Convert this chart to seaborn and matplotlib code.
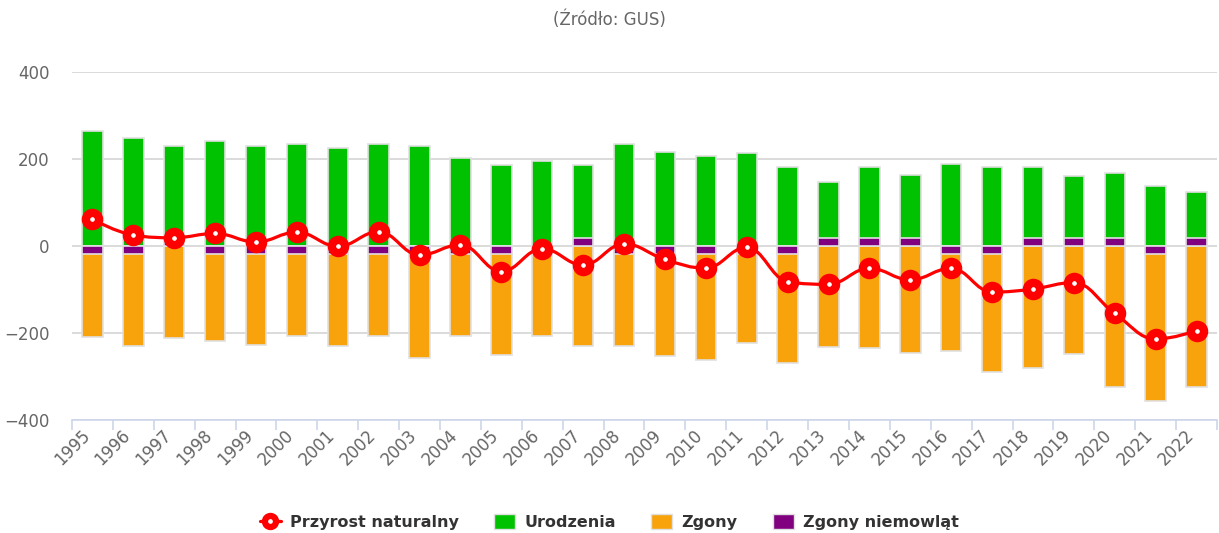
import matplotlib
matplotlib.use("Agg")
import matplotlib.pyplot as plt
from matplotlib.path import Path
from matplotlib.patches import PathPatch, Patch
from matplotlib.lines import Line2D
from matplotlib.transforms import ScaledTranslation
import seaborn as sns
import numpy as np

years = [str(y) for y in range(1995, 2023)]
urodzenia = [264, 249, 212, 242, 229, 235, 225, 235, 231, 203, 186, 196, 168, 235,
             217, 208, 214, 182, 129, 164, 146, 189, 182, 164, 142, 150, 139, 107]
zgony = [-192, -213, -212, -201, -210, -188, -213, -188, -240, -188, -232, -188, -231, -213,
         -235, -245, -206, -250, -233, -234, -245, -223, -272, -280, -249, -323, -338, -323]
zgony_niemowlat = [-18, -18, 18, -18, -18, -18, -18, -18, -18, -18, -18, -18, 18, -18,
                   -18, -18, -18, -18, 18, 18, 18, -18, -18, 18, 18, 18, -18, 18]
przyrost = [61, 25, 19, 29, 9, 32, -1, 33, -21, 3, -59, -6, -44, 5,
            -31, -51, -3, -82, -88, -51, -78, -51, -106, -99, -84, -155, -214, -195]

c_green = "#00c200"
c_orange = "#f8a20c"
c_purple = "#800080"
c_red = "#ff0000"

sns.set_style("white")
plt.rcParams['font.family'] = ['DejaVu Sans']

niem = np.array(zgony_niemowlat)
pos_top = np.array(urodzenia) + np.clip(niem, 0, None)
neg_bottom = np.array(zgony) + np.clip(niem, None, 0)

fig = plt.figure(figsize=(12.19, 5.33), dpi=100)
ax = fig.add_axes([72 / 1219, (533 - 420) / 533, 1145 / 1219, 348 / 533])

bar_kw = dict(width=0.5, saturation=1, edgecolor="#e0e0e0", linewidth=1.2, errorbar=None, ax=ax)
sns.barplot(x=years, y=pos_top, color=c_green, **bar_kw)
sns.barplot(x=years, y=neg_bottom, color=c_orange, **bar_kw)
sns.barplot(x=years, y=niem, color=c_purple, **bar_kw)

# spline line like highcharts
xs = np.arange(len(years), dtype=float)
ys = np.array(przyrost, dtype=float)
n = len(xs)
left = [None] * n
right = [None] * n
for i in range(1, n - 1):
    lx = (1.5 * xs[i] + xs[i - 1]) / 2.5
    ly = (1.5 * ys[i] + ys[i - 1]) / 2.5
    rx = (1.5 * xs[i] + xs[i + 1]) / 2.5
    ry = (1.5 * ys[i] + ys[i + 1]) / 2.5
    corr = ((ry - ly) * (rx - xs[i])) / (rx - lx) + ys[i] - ry
    ly += corr
    ry += corr
    if ly > ys[i - 1] and ly > ys[i]:
        ly = max(ys[i - 1], ys[i]); ry = 2 * ys[i] - ly
    elif ly < ys[i - 1] and ly < ys[i]:
        ly = min(ys[i - 1], ys[i]); ry = 2 * ys[i] - ly
    if ry > ys[i + 1] and ry > ys[i]:
        ry = max(ys[i + 1], ys[i]); ly = 2 * ys[i] - ry
    elif ry < ys[i + 1] and ry < ys[i]:
        ry = min(ys[i + 1], ys[i]); ly = 2 * ys[i] - ry
    left[i] = (lx, ly)
    right[i] = (rx, ry)
verts = [(xs[0], ys[0])]
codes = [Path.MOVETO]
for i in range(1, n):
    c1 = right[i - 1] if right[i - 1] else (xs[i - 1], ys[i - 1])
    c2 = left[i] if left[i] else (xs[i], ys[i])
    verts += [c1, c2, (xs[i], ys[i])]
    codes += [Path.CURVE4] * 3
ax.add_patch(PathPatch(Path(verts, codes), fill=False, edgecolor=c_red, lw=2.3, zorder=5))
ax.plot(xs, ys, ls="none", marker="o", ms=9.5, mew=6, mfc="white", mec=c_red, zorder=6)

ax.set_xlim(-0.5, len(years) - 0.5)
ax.set_ylim(-400, 400)
ax.set_yticks([-400, -200, 0, 200, 400])
ax.set_yticklabels(["\u2212400", "\u2212200", "0", "200", "400"])
ax.yaxis.grid(True, color="#d8d8d8", lw=1.3)
ax.set_axisbelow(True)
for s in ["top", "right", "left"]:
    ax.spines[s].set_visible(False)
ax.spines["bottom"].set_color("#ccd6eb")
ax.spines["bottom"].set_linewidth(1.2)
ax.tick_params(axis="y", length=0, pad=16, labelsize=12, labelcolor="#666666")
ax.set_xticks(range(len(years)))
ax.set_xticklabels(years, rotation=45, ha="right", va="center", rotation_mode="anchor")
ax.tick_params(axis="x", which="major", length=0, pad=9, labelsize=12, labelcolor="#666666")
ax.set_xticks(np.arange(len(years) + 1) - 0.5, minor=True)
ax.tick_params(axis="x", which="minor", bottom=True, direction="out", length=7, width=1.2, color="#ccd6eb")
for lbl in ax.get_xticklabels():
    lbl.set_transform(lbl.get_transform() + ScaledTranslation(-4 / 72, 0, fig.dpi_scale_trans))
ax.set_xlabel("")
ax.set_ylabel("")

fig.text(0.5, 1 - 20 / 533, "(Źródło: GUS)", ha="center", va="center", fontsize=12, color="#666666")

handles = [
    Line2D([], [], color=c_red, lw=2.3, marker="o", ms=8, mew=4.5, mfc="white", mec=c_red),
    Patch(facecolor=c_green, edgecolor="#e0e0e0"),
    Patch(facecolor=c_orange, edgecolor="#e0e0e0"),
    Patch(facecolor=c_purple, edgecolor="#e0e0e0"),
]
labels = ["Przyrost naturalny", "Urodzenia", "Zgony", "Zgony niemowląt"]
leg = fig.legend(handles, labels, loc="center", bbox_to_anchor=(0.5, 11 / 533), ncol=4, frameon=False,
                 prop={"size": 11.5, "weight": "bold"}, handlelength=1.3, handleheight=1.1,
                 columnspacing=2.2, handletextpad=0.6)
for t in leg.get_texts():
    t.set_color("#333333")

fig.savefig("out.png", dpi=100)
